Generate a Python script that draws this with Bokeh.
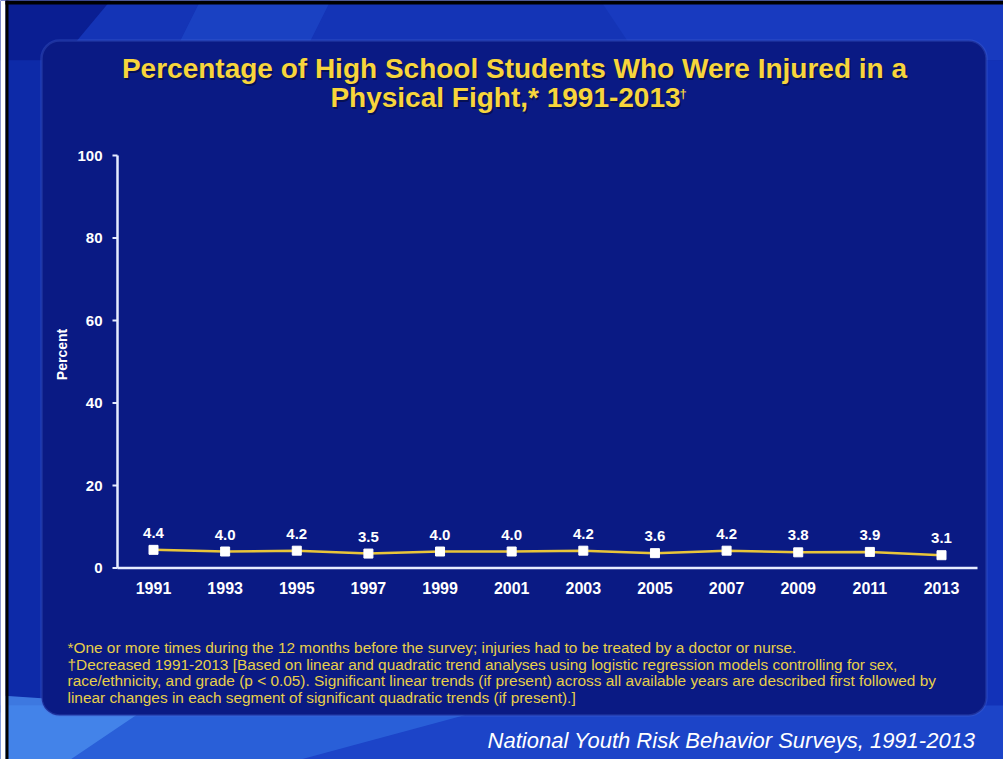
import math
from bokeh.plotting import figure
from bokeh.models import (BoxAnnotation, PolyAnnotation, Label, ColumnDataSource, LabelSet)
from bokeh.core.properties import value
from bokeh.embed import file_html
from bokeh.resources import INLINE

years = [1991, 1993, 1995, 1997, 1999, 2001, 2003, 2005, 2007, 2009, 2011, 2013]
percent = [4.4, 4.0, 4.2, 3.5, 4.0, 4.0, 4.2, 3.6, 4.2, 3.8, 3.9, 3.1]
y_ticks = [0, 20, 40, 60, 80, 100]
title_lines = ["Percentage of High School Students Who Were Injured in a",
               "Physical Fight,* 1991-2013"]
footnotes = [
    "*One or more times during the 12 months before the survey; injuries had to be treated by a doctor or nurse.",
    "\u2020Decreased 1991-2013 [Based on linear and quadratic trend analyses using logistic regression models controlling for sex,",
    "race/ethnicity, and grade (p < 0.05). Significant linear trends (if present) across all available years are described first followed by",
    "linear changes in each segment of significant quadratic trends (if present).]",
]
source_text = "National Youth Risk Behavior Surveys, 1991-2013"

W, H = 1003, 759
# plot geometry in canvas pixels (top-left origin)
PX_X0, PX_X1 = 153.0, 941.0      # pixel of first/last year
PX_Y0, PX_Y100 = 567.5, 155.0    # pixel of 0 and 100 %
ppx = (PX_X1 - PX_X0) / (years[-1] - years[0])
ppy = (PX_Y0 - PX_Y100) / 100.0
x_start = years[0] - PX_X0 / ppx
x_end = x_start + W / ppx
y_end = 100 + PX_Y100 / ppy
y_start = -(H - PX_Y0) / ppy

p = figure(width=W, height=H, output_backend="svg", toolbar_location=None,
           x_range=(x_start, x_end), y_range=(y_start, y_end),
           min_border=0)
p.axis.visible = False
p.grid.visible = False
p.outline_line_color = None
p.background_fill_color = "#0b25a2"
p.border_fill_color = "#0b25a2"

FONT = "Liberation Sans"


def sx(rx):
    return rx


def sy(ry):
    return H - ry


def poly(pts, color, alpha=1.0):
    p.add_layout(PolyAnnotation(xs=[sx(a) for a, b in pts], ys=[sy(b) for a, b in pts],
                                xs_units="screen", ys_units="screen",
                                fill_color=color, fill_alpha=alpha, line_color=None,
                                level="underlay"))


# background decorations
poly([(0, 0), (1003, 0), (1003, 60), (0, 60)], "#1434b6")
poly([(0, 0), (110, 0), (60, 60), (0, 60)], "#0a1e92")
poly([(200, 0), (330, 0), (300, 60), (170, 60)], "#1b45c6", 0.8)
poly([(600, 0), (1003, 0), (1003, 60), (640, 60)], "#1a3fc4", 0.6)
poly([(0, 60), (42, 60), (42, 712), (0, 712)], "#0d2aa8")
poly([(985, 60), (1003, 60), (1003, 712), (985, 712)], "#1232b8")
poly([(0, 705), (1003, 705), (1003, 759), (0, 759)], "#1c44c8")
poly([(0, 705), (500, 705), (300, 759), (0, 759)], "#2d66dc", 0.8)
poly([(0, 695), (150, 705), (70, 759), (0, 759)], "#4a8cee", 0.8)
# frame edges of the screenshot
poly([(0, 0), (5, 0), (5, 759), (0, 759)], "#ffffff")
poly([(5, 0), (8, 0), (8, 759), (5, 759)], "#000000")
poly([(5, 0), (1003, 0), (1003, 4), (5, 4)], "#000000")
p.add_layout(BoxAnnotation(left=sx(41), right=sx(986), top=sy(40), bottom=sy(715),
                           left_units="screen", right_units="screen",
                           top_units="screen", bottom_units="screen",
                           fill_color="#0a1a84", fill_alpha=1,
                           line_color="#4d6bd8", line_width=2.5, border_radius=18,
                           level="underlay"))

# axes drawn through data scales
ax_x = years[0] - (PX_X0 - 117) / ppx
ax_x_end = x_start + 977 / ppx
AXIS_COLOR = "#e6ecff"
p.segment(x0=[ax_x], y0=[0], x1=[ax_x], y1=[100], line_color=AXIS_COLOR, line_width=2.5)
p.segment(x0=[ax_x], y0=[0], x1=[ax_x_end], y1=[0], line_color=AXIS_COLOR, line_width=2.5)
tick_len = 5 / ppx
p.segment(x0=[ax_x - tick_len] * len(y_ticks), y0=y_ticks, x1=[ax_x] * len(y_ticks),
          y1=y_ticks, line_color=AXIS_COLOR, line_width=2)

ysrc = ColumnDataSource(dict(x=[ax_x] * len(y_ticks), y=y_ticks, t=[str(v) for v in y_ticks]))
p.add_layout(LabelSet(x="x", y="y", text="t", source=ysrc, x_offset=-15, y_offset=0,
                      text_align="right", text_baseline="middle", text_color="#ffffff",
                      text_font=value(FONT), text_font_style="bold", text_font_size="15px"))
xsrc = ColumnDataSource(dict(x=years, y=[0] * len(years), t=[str(v) for v in years]))
p.add_layout(LabelSet(x="x", y="y", text="t", source=xsrc, x_offset=0, y_offset=-20,
                      text_align="center", text_baseline="middle", text_color="#ffffff",
                      text_font=value(FONT), text_font_style="bold", text_font_size="16px"))
p.add_layout(Label(x=sx(61), y=sy(354), x_units="screen", y_units="screen",
                   text="Percent", angle=math.pi / 2, text_align="center",
                   text_baseline="middle", text_color="#ffffff", text_font=FONT,
                   text_font_style="bold", text_font_size="14px"))

# data
src = ColumnDataSource(dict(x=years, y=percent, lab=[f"{v:.1f}" for v in percent]))
p.line("x", "y", source=src, line_color="#e8c53a", line_width=2.5)
p.scatter("x", "y", source=src, marker="square", size=9, fill_color="#ffffff",
          line_color="#ffffff")
p.add_layout(LabelSet(x="x", y="y", text="lab", source=src, x_offset=0, y_offset=17,
                      text_align="center", text_baseline="middle",
                      text_color="#ffffff", text_font=value(FONT),
                      text_font_style="bold", text_font_size="15px"))

# title
TITLE_COLOR = "#f7d53c"
title_pos = [(514, 68), (505, 97)]
for line, (tx, ty) in zip(title_lines, title_pos):
    p.add_layout(Label(x=sx(tx) + 1.5, y=sy(ty) - 1.5, x_units="screen", y_units="screen",
                       text=line, text_align="center", text_baseline="middle",
                       text_color="#050c40", text_alpha=0.7, text_font=FONT,
                       text_font_style="bold", text_font_size="28px"))
    p.add_layout(Label(x=sx(tx), y=sy(ty), x_units="screen", y_units="screen",
                       text=line, text_align="center", text_baseline="middle",
                       text_color=TITLE_COLOR, text_font=FONT, text_font_style="bold",
                       text_font_size="28px"))
p.add_layout(Label(x=sx(679), y=sy(93), x_units="screen", y_units="screen",
                   text="\u2020", text_align="left", text_baseline="middle",
                   text_color=TITLE_COLOR, text_font=FONT, text_font_style="bold",
                   text_font_size="13px"))

# footnotes
for i, line in enumerate(footnotes):
    p.add_layout(Label(x=sx(67), y=sy(647 + i * 16.7), x_units="screen", y_units="screen",
                       text=line, text_align="left", text_baseline="middle",
                       text_color="#e8cf4a", text_font=FONT,
                       text_font_size="15.4px"))

p.add_layout(Label(x=sx(975), y=sy(740), x_units="screen", y_units="screen",
                   text=source_text, text_align="right", text_baseline="middle",
                   text_color="#ffffff", text_font=FONT, text_font_style="italic",
                   text_font_size="22px"))

open("out.html", "w").write(file_html(p, INLINE))
